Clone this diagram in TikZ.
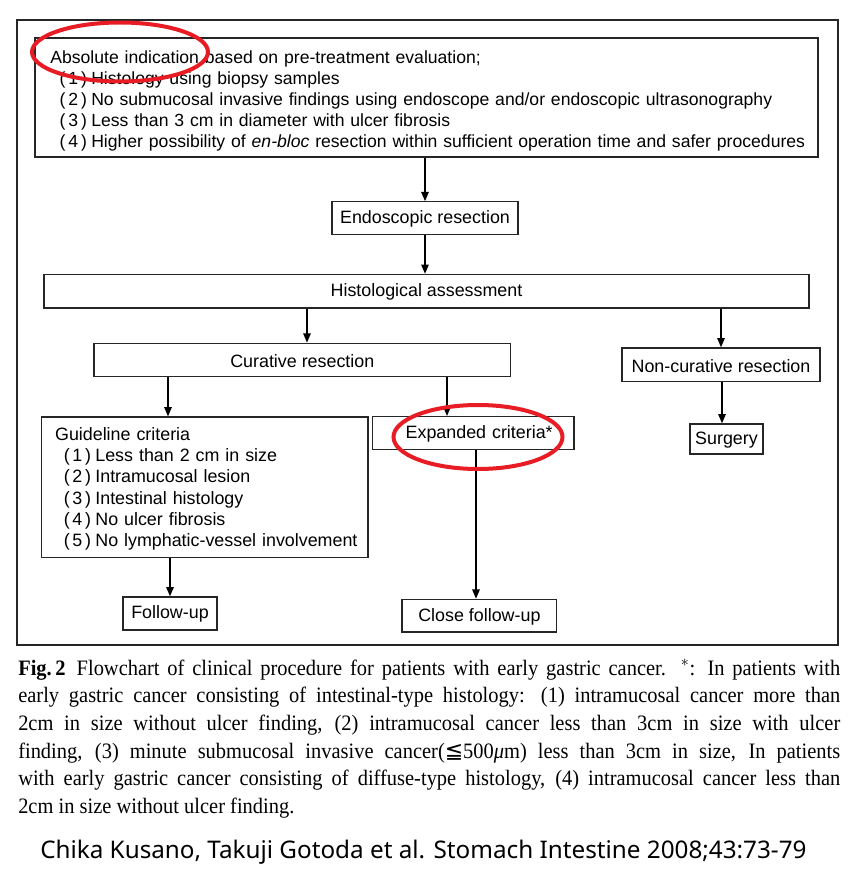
\documentclass[tikz,border=0pt]{standalone}
\usepackage{fontspec}
\setmainfont{Liberation Sans}
\newfontfamily\capfont[FakeStretch=0.93]{Liberation Serif}
\newfontfamily\symfont{DejaVu Sans}
\newfontfamily\authfont{Noto Sans}
\usetikzlibrary{arrows.meta,calc}
\definecolor{markred}{RGB}{232,28,36}
\newcommand{\myitem}[3][7.5pt]{\mbox{\hspace*{#1}\makebox[20.5pt][s]{(\hfil#2\hfil)}\hspace{3.2pt}#3}}
\begin{document}
\begin{tikzpicture}[x=0.75pt,y=-0.75pt,
  font=\fontsize{13.4}{15.7}\selectfont,
  box/.style={draw=black!85, line width=0.9pt, inner sep=0pt},
  arr/.style={-{Triangle[length=7pt,width=5.5pt]}, line width=1.3pt},
  redmark/.style={draw=markred, line width=3pt}]
\useasboundingbox (0,0) rectangle (866,877);
\fill[white] (0,0) rectangle (866,877);
% outer frame
\draw[line width=1.2pt, black!85] (17,20) rectangle (838,645);
% boxes
\node[box, minimum height=89.25pt, text width=569.25pt, inner xsep=9pt, align=left,
  font=\fontsize{13.2}{15.7}\selectfont] (top) at (426.5,97.5)
 {\mbox{\rule{0pt}{15pt}\hspace*{2.5pt}Absolute indication based on pre-treatment evaluation;}\\
  \myitem[9.5pt]{1}{Histology using biopsy samples}\\
  \myitem[9.5pt]{2}{No submucosal invasive findings using endoscope and/or endoscopic ultrasonography}\\
  \myitem[9.5pt]{3}{Less than 3 cm in diameter with ulcer fibrosis}\\
  \myitem[9.5pt]{4}{Higher possibility of \textit{en-bloc} resection within sufficient operation time and safer procedures}};
\node[box, minimum width=139.5pt, minimum height=24.2pt] (endo) at (425,218) {\rule{0pt}{11pt}Endoscopic resection};
\node[box, minimum width=573.75pt, minimum height=25.1pt] (hist) at (426.5,291.2) {\rule{0pt}{11pt}Histological assessment};
\node[box, minimum width=312.5pt, minimum height=25pt] (cur) at (302.3,360) {\rule{0pt}{11pt}Curative resection};
\node[box, minimum width=148.5pt, minimum height=25.3pt] (noncur) at (721,364.9) {\rule{0pt}{11pt}Non-curative resection};
\node[box, minimum height=105.5pt, text width=226.7pt, inner xsep=9pt, align=left,
  font=\fontsize{13.4}{16}\selectfont] (guide) at (204.9,487.4)
 {\mbox{\rule{0pt}{12pt}\hspace*{1pt}Guideline criteria}\\
  \myitem{1}{Less than 2 cm in size}\\
  \myitem{2}{Intramucosal lesion}\\
  \myitem{3}{Intestinal histology}\\
  \myitem{4}{No ulcer fibrosis}\\
  \myitem{5}{No lymphatic-vessel involvement}};
\node[box, minimum width=151.3pt, minimum height=24.75pt, text width=151.3pt, align=center] (exp) at (473.2,433.2) {\rule{0pt}{11pt}\hspace*{9pt}Expanded criteria*};
\node[box, minimum width=54.75pt, minimum height=22.5pt] (surg) at (726.5,439) {\rule{0pt}{11pt}Surgery};
\node[box, minimum width=70.5pt, minimum height=24.75pt] (follow) at (170,613.5) {\rule{0pt}{11pt}Follow-up};
\node[box, minimum width=116pt, minimum height=24.5pt] (close) at (479.4,615.7) {\rule{0pt}{11pt}Close follow-up};
% connector x positions
\coordinate (xa) at (307,0);
\coordinate (xb) at (168,0);
\coordinate (xc) at (447,0);
\coordinate (xd) at (170,0);
\coordinate (xe) at (476,0);
\coordinate (xf) at (722,0);
\draw[arr] (top.south -| endo.north) -- (endo.north);
\draw[arr] (endo.south) -- (hist.north -| endo.south);
\draw[arr] (hist.south -| xa) -- (cur.north -| xa);
\draw[arr] (hist.south -| noncur.north) -- (noncur.north);
\draw[arr] (cur.south -| xb) -- (guide.north -| xb);
\draw[arr] (cur.south -| xc) -- (exp.north -| xc);
\draw[arr] (noncur.south -| xf) -- (surg.north -| xf);
\draw[arr] (guide.south -| xd) -- (follow.north -| xd);
\draw[arr] (exp.south -| xe) -- (close.north -| xe);
% red marks
\draw[redmark] (120,52) ellipse [x radius=88, y radius=29.5];
\draw[redmark] (478,437) ellipse [x radius=84.5, y radius=32];
% caption
\node[anchor=north west, text width=616.5pt, align=justify, inner sep=0pt,
  font=\capfont\fontsize{16.5}{20.75}\selectfont] (cap) at (18,659)
 {\textbf{Fig.\,2}\enspace Flowchart of clinical procedure for patients with early gastric cancer. $^{*}$: In patients with\linebreak
 early gastric cancer consisting of intestinal-type histology: (1) intramucosal cancer more than\linebreak
 2cm in size without ulcer finding, (2) intramucosal cancer less than 3cm in size with ulcer\linebreak
 finding, (3) minute submucosal invasive cancer({\symfont ≦}500\textit{μ}m) less than 3cm in size, In patients\linebreak
 with early gastric cancer consisting of diffuse-type histology, (4) intramucosal cancer less than\linebreak
 2cm in size without ulcer finding.};
\node[anchor=base west, inner sep=0pt, font=\authfont\fontsize{18.2}{21}\selectfont] (auth) at (40,858)
 {Chika Kusano, Takuji Gotoda et al. Stomach Intestine 2008;43:73-79};
\end{tikzpicture}
\end{document}
